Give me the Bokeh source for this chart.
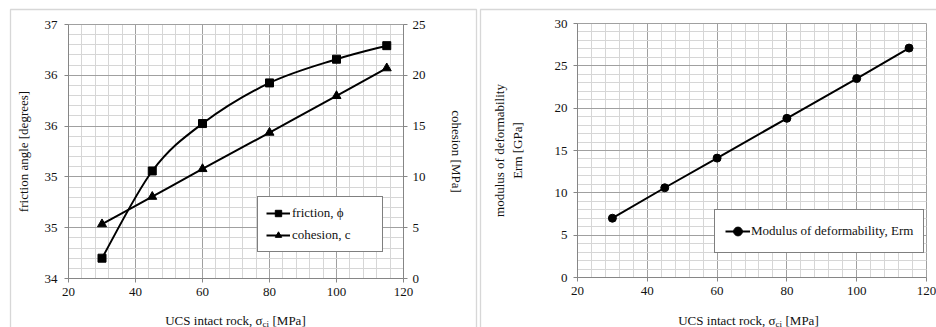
from bokeh.plotting import figure
from bokeh.layouts import row
from bokeh.models import (Range1d, LinearAxis, FixedTicker, NumeralTickFormatter,
                          Legend, LegendItem, Label, BoxAnnotation)
from bokeh.embed import file_html
from bokeh.resources import INLINE

# ---------------- data ----------------
ucs = [30, 45, 60, 80, 100, 115]
friction = [34.24, 35.27, 35.83, 36.31, 36.59, 36.75]
cohesion = [5.35, 8.05, 10.78, 14.36, 17.97, 20.7]
erm = [7.0, 10.6, 14.1, 18.8, 23.5, 27.1]

x_ticks = [20, 40, 60, 80, 100, 120]
fric_ticks = [34, 34.6, 35.2, 35.8, 36.4, 37]
coh_ticks = [0, 5, 10, 15, 20, 25]
erm_ticks = [0, 5, 10, 15, 20, 25, 30]

FONT = "Liberation Serif"
TXT_C = "#111111"
AXIS_C = "#868686"
MAJ_C = "#a0a0a0"
MIN_C = "#d6d6d6"
BOX_C = "#7a7a7a"
H = 327
W1 = 478
W2 = 936 - W1


class Map:
    """linear map between canvas pixels and data values of one panel"""
    def __init__(self, px0, px1, v0, v1):
        self.px0, self.px1, self.v0, self.v1 = px0, px1, v0, v1
        self.k = (v1 - v0) / (px1 - px0)

    def v(self, px):
        return self.v0 + (px - self.px0) * self.k


def minor_of(ticks, n=5):
    out = []
    for a, b in zip(ticks[:-1], ticks[1:]):
        step = (b - a) / n
        out += [a + k * step for k in range(1, n)]
    return out


def smooth(xs, ys):
    # Excel-like smoothed line: cubic Bezier segments through the data points
    xs = list(xs); ys = list(ys)
    n = len(xs)
    px = [xs[0]] + xs + [xs[-1]]
    py = [ys[0]] + ys + [ys[-1]]
    d = dict(x0=[], y0=[], x1=[], y1=[], cx0=[], cy0=[], cx1=[], cy1=[])
    for i in range(n - 1):
        j = i + 1
        d["x0"].append(px[j]); d["y0"].append(py[j])
        d["x1"].append(px[j + 1]); d["y1"].append(py[j + 1])
        d["cx0"].append(px[j] + (px[j + 1] - px[j - 1]) / 6)
        d["cy0"].append(py[j] + (py[j + 1] - py[j - 1]) / 6)
        d["cx1"].append(px[j + 1] - (px[j + 2] - px[j]) / 6)
        d["cy1"].append(py[j + 1] - (py[j + 2] - py[j]) / 6)
    return d


def style_axis(ax):
    ax.axis_line_color = AXIS_C
    ax.major_tick_line_color = AXIS_C
    ax.major_tick_in = 0
    ax.major_tick_out = 4
    ax.minor_tick_line_color = None
    ax.major_label_text_font = FONT
    ax.major_label_text_font_size = "13px"
    ax.major_label_text_color = TXT_C
    ax.axis_label_text_font = FONT
    ax.axis_label_text_font_size = "13px"
    ax.axis_label_text_font_style = "normal"
    ax.axis_label_text_color = TXT_C


def style_grid(p, xt, yt):
    ex = (xt[-1] - xt[0]) * 1e-4
    ey = (yt[-1] - yt[0]) * 1e-4
    p.xgrid.ticker = FixedTicker(ticks=xt, minor_ticks=minor_of(xt))
    p.ygrid.ticker = FixedTicker(ticks=yt, minor_ticks=minor_of(yt))
    p.xgrid.bounds = (xt[0] - ex, xt[-1] + ex)
    p.ygrid.bounds = (yt[0] - ey, yt[-1] + ey)
    p.xgrid.cross_bounds = (yt[0], yt[-1])
    p.ygrid.cross_bounds = (xt[0], xt[-1])
    for g in (p.xgrid, p.ygrid):
        g.grid_line_color = MAJ_C
        g.grid_line_width = 1
        g.minor_grid_line_color = MIN_C
        g.minor_grid_line_width = 1


def make_fig(W, mx, my):
    p = figure(width=W, height=H, output_backend="svg", toolbar_location=None,
               x_range=Range1d(mx.v(0), mx.v(W)), y_range=Range1d(my.v(H), my.v(0)),
               x_axis_location=None, y_axis_location=None,
               min_border_left=0, min_border_right=0, min_border_top=0, min_border_bottom=0)
    p.outline_line_color = None
    return p


def add_xtitle(p, x_sigma_end, y_base):
    kw = dict(x_units="canvas", y_units="canvas", text_baseline="alphabetic",
              text_font=FONT, text_color=TXT_C)
    p.add_layout(Label(x=x_sigma_end, y=y_base, text="UCS intact rock, σ", text_align="right",
                       text_font_size="13px", **kw))
    p.add_layout(Label(x=x_sigma_end, y=y_base + 3, text="ci", text_align="left",
                       text_font_size="9px", **kw))
    p.add_layout(Label(x=x_sigma_end + 10, y=y_base, text="[MPa]", text_align="left",
                       text_font_size="13px", **kw))


def add_box(p, mx, my, left, right, top, bottom):
    p.add_layout(BoxAnnotation(left=mx.v(left), right=mx.v(right), top=my.v(top),
                               bottom=my.v(bottom), fill_alpha=0, line_color=BOX_C,
                               line_width=1.3, level="underlay"))


# ---------------- left panel ----------------
mx1 = Map(68, 403, x_ticks[0], x_ticks[-1])
my1 = Map(278, 24, fric_ticks[0], fric_ticks[-1])
mc1 = Map(278, 24, coh_ticks[0], coh_ticks[-1])
p1 = make_fig(W1, mx1, my1)
p1.extra_y_ranges = {"coh": Range1d(mc1.v(H), mc1.v(0))}

ax_b = LinearAxis(ticker=FixedTicker(ticks=x_ticks), fixed_location=fric_ticks[0],
                  bounds=(x_ticks[0], x_ticks[-1]))
ax_l = LinearAxis(ticker=FixedTicker(ticks=fric_ticks), formatter=NumeralTickFormatter(format="0"),
                  fixed_location=x_ticks[0], bounds=(fric_ticks[0], fric_ticks[-1]),
                  axis_label="friction angle [degrees]")
ax_r = LinearAxis(y_range_name="coh", ticker=FixedTicker(ticks=coh_ticks),
                  fixed_location=x_ticks[-1], bounds=(coh_ticks[0], coh_ticks[-1]),
                  axis_label="cohesion [MPa]")
p1.add_layout(ax_b, "below")
p1.add_layout(ax_l, "left")
p1.add_layout(ax_r, "right")
for ax in (ax_b, ax_l, ax_r):
    style_axis(ax)
ax_b.major_label_standoff = 5
ax_l.major_label_standoff = 7
ax_l.axis_label_standoff = 11
ax_r.major_label_standoff = 5
ax_r.axis_label_standoff = 20
style_grid(p1, x_ticks, fric_ticks)

fb = smooth(ucs, friction)
cb = smooth(ucs, cohesion)
p1.bezier(source=fb, x0="x0", y0="y0", x1="x1", y1="y1", cx0="cx0", cy0="cy0",
          cx1="cx1", cy1="cy1", line_color="black", line_width=2)
p1.bezier(source=cb, x0="x0", y0="y0", x1="x1", y1="y1", cx0="cx0", cy0="cy0",
          cx1="cx1", cy1="cy1", line_color="black", line_width=2, y_range_name="coh")
fl = p1.line(ucs, friction, line_color="black", line_width=2, visible=False)
fs = p1.scatter(ucs, friction, marker="square", size=8, fill_color="black", line_color="black")
cl = p1.line(ucs, cohesion, line_color="black", line_width=2, visible=False, y_range_name="coh")
cs = p1.scatter(ucs, cohesion, marker="triangle", size=9, fill_color="black", line_color="black",
                y_range_name="coh")

leg1 = Legend(items=[LegendItem(label="friction, ϕ", renderers=[fl, fs]),
                     LegendItem(label="cohesion, c", renderers=[cl, cs])],
              location=(257, H - 252), padding=8, spacing=6, glyph_height=16, label_height=16,
              glyph_width=24, label_standoff=2, label_width=82,
              label_text_font=FONT, label_text_font_size="13px", label_text_color=TXT_C,
              border_line_color="black", border_line_width=1, background_fill_alpha=1,
              margin=0)
p1.add_layout(leg1, "center")
add_xtitle(p1, 262, 320)
add_box(p1, mx1, my1, 10, 476, 9, H + 40)

# ---------------- right panel ----------------
mx2 = Map(577 - W1, 926 - W1, x_ticks[0], x_ticks[-1])
my2 = Map(277, 23, erm_ticks[0], erm_ticks[-1])
p2 = make_fig(W2, mx2, my2)

bx2 = LinearAxis(ticker=FixedTicker(ticks=x_ticks), fixed_location=erm_ticks[0],
                 bounds=(x_ticks[0], x_ticks[-1]))
lx2 = LinearAxis(ticker=FixedTicker(ticks=erm_ticks), fixed_location=x_ticks[0],
                 bounds=(erm_ticks[0], erm_ticks[-1]),
                 axis_label="modulus of deformability\nErm [GPa]")
p2.add_layout(bx2, "below")
p2.add_layout(lx2, "left")
for ax in (bx2, lx2):
    style_axis(ax)
bx2.major_label_standoff = 5
lx2.major_label_standoff = 6
lx2.axis_label_standoff = 27
style_grid(p2, x_ticks, erm_ticks)

el = p2.line(ucs, erm, line_color="black", line_width=2)
es = p2.scatter(ucs, erm, marker="circle", size=8, fill_color="black", line_color="black")
leg2 = Legend(items=[LegendItem(label="Modulus of deformability, Erm", renderers=[el, es])],
              location=(714 - W1, H - 253), padding=10, spacing=0, glyph_height=22,
              label_height=22, glyph_width=25, label_standoff=1,
              label_text_font=FONT, label_text_font_size="13px", label_text_color=TXT_C,
              border_line_color="black", border_line_width=1, background_fill_alpha=1,
              margin=0)
p2.add_layout(leg2, "center")
add_xtitle(p2, 775 - W1, 320)
add_box(p2, mx2, my2, 480 - W1, W2 + 40, 9, H + 40)

layout = row(p1, p2, spacing=0)
open("out.html", "w").write(file_html(layout, INLINE))
